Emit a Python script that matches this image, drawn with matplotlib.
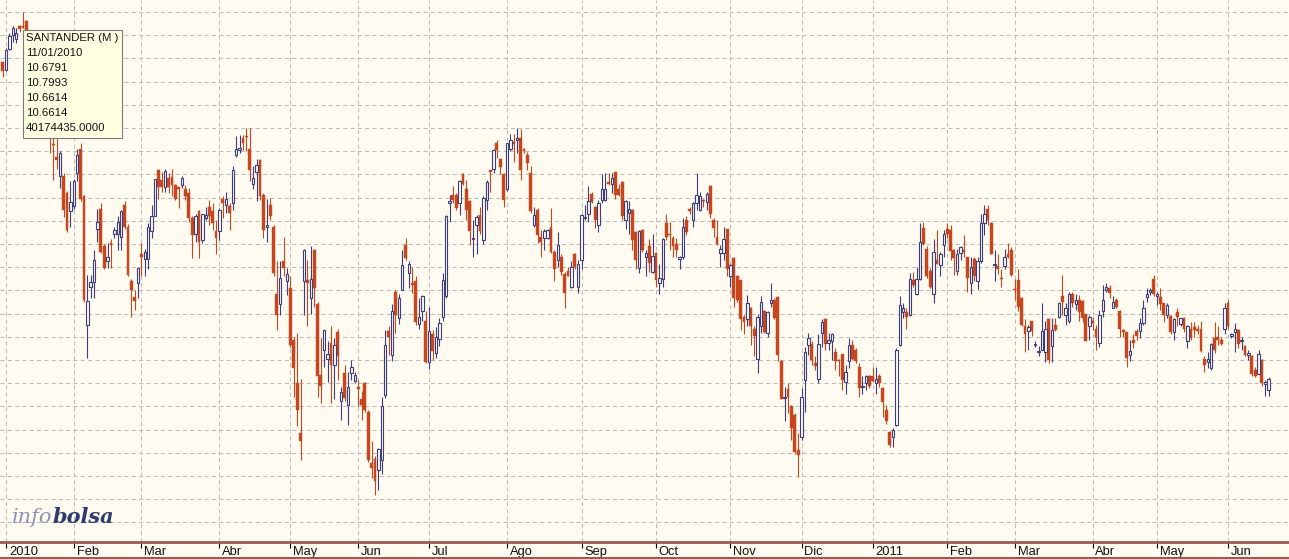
import matplotlib

matplotlib.use("Agg")
import matplotlib.pyplot as plt
import numpy as np
from matplotlib.lines import Line2D
from matplotlib.patches import Rectangle
from matplotlib.transforms import offset_copy

plt.rcParams["font.family"] = ["Liberation Sans", "DejaVu Sans"]

# daily candles, Dec 31 2009 .. mid Jun 2011
opens = [
    10.37, 10.30, 10.48, 10.60, 10.57, 10.68, 10.68, 10.72, 10.60, 10.42, 10.50, 10.28, 10.08, 10.12, 9.85,
    9.66, 9.55, 9.39, 9.39, 9.24, 9.08, 9.13, 9.41, 9.62, 9.21, 8.10, 8.43, 8.47, 8.93, 9.10,
    8.78, 8.65, 8.81, 8.89, 8.89, 8.86, 9.14, 8.95, 8.48, 8.34, 8.46, 8.71, 8.67, 8.67, 8.91,
    9.04, 9.44, 9.35, 9.29, 9.37, 9.38, 9.31, 9.29, 9.31, 9.27, 9.24, 9.02, 8.89, 9.08, 8.83,
    9.02, 9.12, 9.08, 8.91, 8.91, 9.19, 9.14, 9.13, 9.15, 9.57, 9.61, 9.71, 9.73, 9.62, 9.32,
    9.42, 9.52, 9.22, 8.95, 9.14, 8.95, 8.37, 8.28, 8.65, 8.48, 8.42, 7.97, 7.60, 7.17, 8.48,
    8.49, 8.33, 8.75, 8.28, 7.67, 7.89, 7.81, 7.95, 7.76, 8.04, 7.45, 7.69, 7.41, 7.69, 7.62,
    7.57, 7.46, 7.60, 7.35, 6.91, 6.95, 6.85, 6.94, 7.50, 8.05, 7.84, 8.39, 8.16, 8.40, 8.79,
    8.55, 8.46, 8.48, 8.11, 8.22, 8.14, 7.78, 8.02, 7.86, 7.98, 8.17, 8.35, 9.15, 9.22, 9.22,
    9.15, 9.40, 9.27, 9.17, 8.84, 8.96, 9.05, 8.83, 9.18, 9.44, 9.45, 9.67, 9.53, 9.40, 9.27,
    9.62, 9.68, 9.70, 9.71, 9.62, 9.57, 9.41, 8.96, 9.09, 8.86, 8.85, 8.85, 8.95, 8.73, 8.66,
    8.69, 8.54, 8.57, 8.43, 8.71, 8.43, 8.66, 9.02, 9.06, 9.23, 9.12, 8.96, 9.18, 9.18, 9.33,
    9.32, 9.42, 9.27, 9.33, 9.01, 9.07, 9.09, 8.90, 8.59, 8.92, 8.69, 8.78, 8.56, 8.72, 8.46,
    8.50, 8.98, 8.89, 8.85, 8.80, 8.67, 8.69, 9.01, 9.10, 9.01, 9.15, 9.09, 9.18, 9.16, 9.30,
    9.01, 8.86, 8.72, 8.72, 8.93, 8.52, 8.68, 8.52, 8.49, 8.17, 8.15, 8.25, 8.07, 7.81, 8.09,
    8.22, 8.03, 8.29, 8.32, 8.34, 7.79, 7.47, 7.55, 7.40, 7.33, 7.02, 7.14, 7.63, 7.93, 7.94,
    7.77, 7.64, 8.03, 8.15, 7.95, 7.96, 7.87, 7.80, 7.85, 7.61, 7.79, 7.93, 7.89, 7.74, 7.57,
    7.60, 7.66, 7.66, 7.60, 7.66, 7.56, 7.37, 7.18, 7.14, 7.24, 7.93, 8.21, 8.21, 8.19, 8.49,
    8.37, 8.50, 8.94, 8.76, 8.57, 8.37, 8.66, 8.62, 8.79, 8.93, 8.92, 8.75, 8.57, 8.72, 8.75,
    8.69, 8.46, 8.67, 8.48, 8.65, 8.98, 9.10, 8.98, 8.62, 8.61, 8.51, 8.61, 8.71, 8.75, 8.41,
    8.49, 8.33, 8.09, 8.05, 8.14, 7.93, 7.87, 7.89, 7.87, 8.15, 7.92, 8.10, 8.17, 8.35, 8.19,
    8.14, 8.37, 8.28, 8.32, 8.31, 8.20, 8.09, 8.14, 8.07, 7.95, 8.22, 8.40, 8.42, 8.25, 8.32,
    8.22, 8.06, 8.04, 7.84, 7.97, 8.05, 8.05, 8.12, 8.34, 8.39, 8.50, 8.35, 8.34, 8.29, 8.19,
    8.18, 8.04, 8.21, 8.11, 8.16, 7.96, 8.07, 8.08, 8.07, 8.07, 7.81, 7.78, 7.73, 7.99, 8.00,
    7.97, 8.07, 8.29, 8.01, 8.04, 8.06, 7.96, 7.92, 7.84, 7.83, 7.71, 7.68, 7.80, 7.59, 7.54,
]
highs = [
    10.38, 10.49, 10.62, 10.68, 10.66, 10.69, 10.80, 10.73, 10.62, 10.55, 10.52, 10.32, 10.20, 10.15, 9.90,
    9.80, 9.72, 9.60, 9.41, 9.26, 9.34, 9.36, 9.62, 9.67, 9.22, 8.53, 8.53, 8.75, 9.10, 9.15,
    8.80, 8.81, 8.84, 8.95, 9.04, 9.09, 9.17, 8.97, 8.50, 8.40, 8.60, 8.81, 8.76, 8.98, 9.14,
    9.36, 9.45, 9.42, 9.45, 9.41, 9.45, 9.32, 9.29, 9.39, 9.31, 9.28, 9.04, 9.06, 9.09, 9.06,
    9.12, 9.18, 9.15, 9.01, 9.11, 9.21, 9.25, 9.15, 9.47, 9.73, 9.74, 9.74, 9.80, 9.80, 9.47,
    9.53, 9.53, 9.24, 9.19, 9.20, 8.96, 8.65, 8.65, 8.86, 8.59, 8.52, 8.00, 8.03, 7.64, 8.76,
    8.66, 8.78, 8.76, 8.30, 7.99, 8.07, 7.96, 8.09, 7.99, 8.07, 7.57, 7.76, 7.70, 7.80, 7.70,
    7.63, 7.53, 7.61, 7.37, 7.10, 6.97, 7.04, 7.48, 8.06, 8.09, 8.28, 8.40, 8.37, 8.75, 8.85,
    8.65, 8.60, 8.52, 8.33, 8.36, 8.22, 8.26, 8.06, 8.08, 8.16, 8.55, 9.05, 9.22, 9.30, 9.24,
    9.35, 9.41, 9.35, 9.18, 9.01, 9.05, 9.12, 9.21, 9.35, 9.44, 9.62, 9.70, 9.54, 9.41, 9.67,
    9.75, 9.75, 9.80, 9.79, 9.63, 9.59, 9.47, 9.12, 9.11, 8.92, 8.93, 8.93, 9.11, 8.75, 8.90,
    8.71, 8.56, 8.60, 8.65, 8.72, 8.66, 9.06, 9.14, 9.30, 9.25, 9.13, 9.18, 9.40, 9.41, 9.41,
    9.41, 9.42, 9.32, 9.34, 9.18, 9.17, 9.10, 8.91, 8.92, 8.93, 8.75, 8.84, 8.89, 8.73, 8.63,
    8.85, 9.06, 8.99, 8.87, 8.85, 8.70, 9.02, 9.04, 9.12, 9.16, 9.41, 9.25, 9.19, 9.25, 9.31,
    9.02, 9.01, 8.79, 8.95, 8.93, 8.63, 8.69, 8.53, 8.49, 8.19, 8.36, 8.26, 8.09, 8.20, 8.35,
    8.23, 8.22, 8.46, 8.33, 8.35, 7.80, 7.57, 7.60, 7.41, 7.34, 7.17, 7.56, 7.91, 8.03, 7.96,
    7.83, 8.02, 8.15, 8.16, 8.03, 8.03, 7.90, 7.81, 7.85, 7.76, 7.99, 7.97, 7.90, 7.77, 7.66,
    7.67, 7.67, 7.74, 7.74, 7.68, 7.57, 7.41, 7.19, 7.21, 7.90, 8.35, 8.29, 8.25, 8.55, 8.56,
    8.60, 8.98, 8.99, 8.78, 8.59, 8.84, 8.92, 8.73, 8.92, 8.98, 8.96, 8.76, 8.76, 8.78, 8.88,
    8.69, 8.69, 8.69, 8.69, 9.06, 9.14, 9.14, 8.99, 8.75, 8.71, 8.58, 8.76, 8.81, 8.77, 8.50,
    8.58, 8.34, 8.15, 8.10, 8.14, 7.96, 7.92, 8.29, 8.14, 8.16, 8.16, 8.16, 8.30, 8.53, 8.29,
    8.39, 8.39, 8.37, 8.36, 8.32, 8.20, 8.19, 8.17, 8.10, 8.23, 8.45, 8.46, 8.45, 8.35, 8.33,
    8.23, 8.07, 8.04, 7.97, 8.02, 8.07, 8.16, 8.32, 8.42, 8.42, 8.53, 8.39, 8.42, 8.29, 8.29,
    8.19, 8.16, 8.25, 8.16, 8.17, 8.10, 8.13, 8.13, 8.10, 8.14, 7.83, 7.87, 7.95, 8.13, 8.09,
    8.00, 8.29, 8.32, 8.03, 8.12, 8.07, 8.00, 7.93, 7.89, 7.84, 7.74, 7.89, 7.81, 7.63, 7.65,
]
lows = [
    10.24, 10.29, 10.47, 10.54, 10.53, 10.63, 10.66, 10.56, 10.40, 10.38, 10.25, 10.05, 10.00, 9.85, 9.58,
    9.35, 9.45, 9.28, 9.03, 8.90, 8.95, 9.10, 9.34, 9.17, 8.30, 7.82, 8.33, 8.33, 8.82, 8.72,
    8.58, 8.59, 8.59, 8.85, 8.75, 8.75, 8.93, 8.52, 8.17, 8.23, 8.33, 8.52, 8.52, 8.58, 8.85,
    9.04, 9.19, 9.25, 9.25, 9.24, 9.21, 9.18, 9.11, 9.28, 9.18, 8.99, 8.68, 8.82, 8.68, 8.81,
    9.01, 8.96, 8.92, 8.71, 8.83, 9.02, 9.07, 8.92, 9.09, 9.55, 9.58, 9.61, 9.60, 9.34, 9.27,
    9.17, 9.18, 8.85, 8.82, 9.01, 8.52, 8.06, 8.19, 8.52, 8.36, 7.91, 7.48, 7.23, 6.94, 8.19,
    8.09, 8.20, 8.26, 7.48, 7.43, 7.74, 7.61, 7.43, 7.46, 7.63, 7.28, 7.45, 7.24, 7.63, 7.60,
    7.40, 7.28, 7.35, 6.92, 6.78, 6.64, 6.68, 6.82, 7.47, 7.84, 7.79, 8.03, 8.11, 8.40, 8.66,
    8.42, 8.38, 8.10, 8.07, 8.14, 7.77, 7.72, 7.80, 7.82, 7.92, 8.14, 8.33, 8.99, 9.15, 9.09,
    9.05, 9.31, 9.01, 8.79, 8.69, 8.71, 8.89, 8.80, 9.09, 9.25, 9.41, 9.54, 9.40, 9.12, 9.26,
    9.60, 9.51, 9.58, 9.35, 9.58, 9.44, 9.07, 8.95, 8.81, 8.69, 8.75, 8.84, 8.72, 8.48, 8.60,
    8.53, 8.25, 8.52, 8.42, 8.58, 8.38, 8.58, 9.01, 8.99, 9.15, 8.94, 8.90, 9.15, 9.17, 9.31,
    9.24, 9.19, 9.21, 9.01, 8.93, 8.89, 8.75, 8.58, 8.55, 8.73, 8.52, 8.56, 8.55, 8.43, 8.37,
    8.43, 8.83, 8.75, 8.69, 8.69, 8.58, 8.67, 8.88, 9.06, 8.95, 9.09, 9.08, 9.12, 9.09, 9.02,
    8.86, 8.79, 8.60, 8.66, 8.52, 8.43, 8.26, 8.30, 8.06, 8.02, 8.09, 7.93, 7.83, 7.69, 8.03,
    8.03, 8.00, 8.26, 8.15, 7.79, 7.46, 7.27, 7.34, 7.11, 6.99, 6.79, 7.11, 7.35, 7.84, 7.76,
    7.71, 7.60, 7.91, 7.89, 7.89, 7.80, 7.71, 7.66, 7.54, 7.51, 7.73, 7.80, 7.77, 7.48, 7.51,
    7.54, 7.56, 7.61, 7.51, 7.57, 7.31, 7.25, 7.05, 7.05, 7.23, 7.92, 8.16, 8.07, 8.18, 8.43,
    8.36, 8.49, 8.79, 8.51, 8.42, 8.29, 8.63, 8.52, 8.69, 8.85, 8.66, 8.53, 8.53, 8.66, 8.69,
    8.39, 8.37, 8.48, 8.41, 8.64, 8.88, 8.96, 8.71, 8.48, 8.54, 8.43, 8.58, 8.68, 8.52, 8.32,
    8.22, 8.09, 7.87, 7.89, 8.01, 7.91, 7.83, 7.89, 7.78, 7.77, 7.78, 8.05, 8.16, 8.19, 8.10,
    8.12, 8.26, 8.23, 8.14, 8.13, 7.96, 7.97, 8.06, 7.89, 7.91, 8.17, 8.39, 8.33, 8.25, 8.25,
    8.00, 8.00, 7.74, 7.79, 7.90, 7.97, 7.99, 8.10, 8.30, 8.36, 8.35, 8.27, 8.23, 8.13, 8.16,
    8.02, 7.97, 8.09, 8.09, 8.04, 7.90, 7.97, 8.00, 8.02, 7.87, 7.70, 7.73, 7.71, 7.86, 7.93,
    7.93, 8.02, 8.07, 7.99, 7.87, 7.90, 7.89, 7.83, 7.80, 7.66, 7.65, 7.68, 7.58, 7.49, 7.49,
]
closes = [
    10.29, 10.47, 10.59, 10.66, 10.62, 10.65, 10.66, 10.64, 10.45, 10.50, 10.30, 10.10, 10.15, 9.90, 9.75,
    9.65, 9.52, 9.58, 9.09, 8.92, 9.16, 9.34, 9.57, 9.19, 8.32, 8.31, 8.47, 8.66, 8.99, 8.73,
    8.59, 8.69, 8.79, 8.92, 8.99, 9.08, 8.95, 8.53, 8.40, 8.31, 8.59, 8.69, 8.73, 8.95, 9.04,
    9.36, 9.29, 9.29, 9.43, 9.29, 9.31, 9.19, 9.27, 9.37, 9.21, 9.02, 8.88, 9.04, 8.82, 9.06,
    9.05, 9.04, 8.98, 8.85, 9.09, 9.15, 9.19, 9.07, 9.44, 9.62, 9.63, 9.67, 9.72, 9.44, 9.37,
    9.48, 9.21, 8.92, 8.96, 9.04, 8.55, 8.19, 8.51, 8.59, 8.54, 7.93, 7.73, 7.37, 7.10, 8.75,
    8.46, 8.50, 8.42, 7.66, 7.58, 8.06, 7.85, 7.76, 7.93, 7.83, 7.52, 7.47, 7.57, 7.74, 7.67,
    7.55, 7.41, 7.37, 6.94, 6.87, 6.76, 7.03, 7.40, 7.93, 8.00, 8.22, 8.19, 8.33, 8.62, 8.68,
    8.63, 8.45, 8.13, 8.17, 8.35, 7.78, 8.05, 7.88, 8.00, 8.12, 8.49, 9.04, 9.17, 9.18, 9.11,
    9.34, 9.32, 9.09, 8.91, 8.85, 9.03, 8.91, 9.20, 9.33, 9.42, 9.61, 9.61, 9.46, 9.18, 9.67,
    9.70, 9.66, 9.71, 9.44, 9.60, 9.50, 9.08, 9.05, 8.88, 8.82, 8.91, 8.92, 8.73, 8.58, 8.79,
    8.56, 8.38, 8.52, 8.60, 8.60, 8.63, 9.05, 9.03, 9.17, 9.16, 9.01, 9.15, 9.27, 9.27, 9.32,
    9.37, 9.22, 9.22, 9.04, 9.17, 9.10, 8.83, 8.66, 8.91, 8.75, 8.72, 8.64, 8.70, 8.49, 8.51,
    8.84, 8.86, 8.88, 8.78, 8.75, 8.69, 8.95, 8.90, 9.08, 9.15, 9.22, 9.21, 9.17, 9.23, 9.06,
    8.94, 8.80, 8.76, 8.84, 8.58, 8.62, 8.33, 8.32, 8.15, 8.13, 8.29, 8.09, 8.01, 8.17, 8.30,
    8.04, 8.21, 8.32, 8.16, 7.84, 7.46, 7.48, 7.48, 7.21, 7.01, 6.98, 7.48, 7.87, 7.99, 7.80,
    7.75, 7.94, 8.13, 7.94, 7.97, 8.02, 7.79, 7.79, 7.63, 7.70, 7.93, 7.81, 7.79, 7.56, 7.58,
    7.66, 7.58, 7.62, 7.64, 7.60, 7.44, 7.27, 7.07, 7.20, 7.89, 8.27, 8.25, 8.17, 8.50, 8.45,
    8.50, 8.82, 8.80, 8.52, 8.43, 8.73, 8.63, 8.71, 8.89, 8.89, 8.74, 8.68, 8.71, 8.77, 8.73,
    8.51, 8.60, 8.52, 8.65, 8.98, 9.06, 9.01, 8.71, 8.63, 8.58, 8.50, 8.69, 8.69, 8.53, 8.40,
    8.26, 8.10, 8.02, 8.08, 8.05, 7.94, 7.88, 8.05, 8.07, 7.80, 8.06, 8.06, 8.29, 8.30, 8.25,
    8.37, 8.29, 8.32, 8.21, 8.16, 7.96, 8.17, 8.12, 8.00, 8.19, 8.32, 8.43, 8.38, 8.30, 8.26,
    8.07, 8.04, 7.82, 7.88, 7.95, 8.01, 8.12, 8.25, 8.37, 8.40, 8.37, 8.37, 8.28, 8.19, 8.27,
    8.04, 8.15, 8.17, 8.16, 8.07, 8.09, 7.99, 8.06, 8.05, 7.88, 7.76, 7.81, 7.94, 7.89, 7.97,
    7.94, 8.25, 8.09, 8.02, 8.07, 7.94, 7.97, 7.84, 7.86, 7.68, 7.66, 7.85, 7.60, 7.61, 7.64,
]

month_labels = ["2010", "Feb", "Mar", "Abr", "May", "Jun", "Jul", "Ago", "Sep",
                "Oct", "Nov", "Dic", "2011", "Feb", "Mar", "Abr", "May", "Jun"]
# index of the first session of each month
month_start = [1, 21, 41, 64, 85, 105, 126, 149, 171, 193, 215, 236, 257, 279, 299, 322, 341, 362]

tooltip_lines = ["SANTANDER (M )", "11/01/2010", "10.6791", "10.7993",
                 "10.6614", "10.6614", "40174435.0000"]

BG = "#fffbf0"
UP = "#3b3e7a"
DOWN = "#c8461e"
GRID = "#bdbdbd"
AXIS = "#9c5a52"

W, H = 1289, 559
fig = plt.figure(figsize=(W / 100, H / 100), dpi=100, facecolor=BG)
ax = fig.add_axes([0, 17 / H, 1, 542 / H])
ax.set_facecolor(BG)

o = np.array(opens)
h = np.array(highs)
l = np.array(lows)
c = np.array(closes)
idx = np.arange(len(c))
up = c >= o

ax.set_xlim(-0.8, 380.0)
ax.set_ylim(6.231, 10.903)

# dashed grid
for level in np.arange(6.4, 10.81, 0.2):
    ax.axhline(level, color=GRID, lw=0.75, ls=(0, (4, 3)), zorder=0)
for m in month_start:
    ax.axvline(m, color=GRID, lw=0.75, ls=(0, (4, 3)), zorder=0)

# candles
body_lo = np.minimum(o, c)
body_h = np.maximum(np.abs(c - o), 0.008)
ax.vlines(idx, l, h, colors=np.where(up, UP, DOWN), lw=0.8, zorder=2)
ax.bar(idx[~up], body_h[~up], bottom=body_lo[~up], width=0.84,
       color=DOWN, edgecolor=DOWN, lw=0.3, zorder=3)
ax.bar(idx[up], body_h[up], bottom=body_lo[up], width=0.72,
       facecolor=BG, edgecolor=UP, lw=0.8, zorder=3)

# axis band
for s in ["top", "left", "right"]:
    ax.spines[s].set_visible(False)
ax.spines["bottom"].set_color(AXIS)
ax.spines["bottom"].set_linewidth(2)
ax.set_yticks([])
ax.set_xticks(month_start)
ax.tick_params(axis="x", length=4, width=0.8, color="#000000",
               direction="out", labelbottom=False)
lab_tr = offset_copy(ax.get_xaxis_transform(), fig=fig, x=2, y=-3.2, units="points")
for m, lab in zip(month_start, month_labels):
    ax.text(m, 0, lab, transform=lab_tr, ha="left", va="top",
            fontsize=9.3, color="#111111")
fig.add_artist(Line2D([0, 1], [1.5 / H, 1.5 / H], transform=fig.transFigure,
                      color=AXIS, lw=1.5))

# watermark
t1 = fig.text(12 / W, 1 - 523 / H, "info", family="DejaVu Serif", style="italic",
              fontsize=15, color="#8c94b6")
ax.annotate("bolsa", xy=(1, 0), xycoords=t1, va="bottom", ha="left",
            family="DejaVu Serif", style="italic", weight="bold",
            fontsize=15, color="#2e3b6b")

# tooltip
fig.add_artist(Rectangle((23 / W, 1 - 138 / H), 99 / W, 108 / H,
                         transform=fig.transFigure, facecolor="#ffffe1",
                         edgecolor="#7a7a7a", lw=0.8, zorder=10))
for k, line in enumerate(tooltip_lines):
    fig.text(26 / W, 1 - (33 + 15 * k) / H, line, va="top", ha="left",
             fontsize=8.2, color="#111111", zorder=11)

fig.savefig("out.png", dpi=100, facecolor=BG)
